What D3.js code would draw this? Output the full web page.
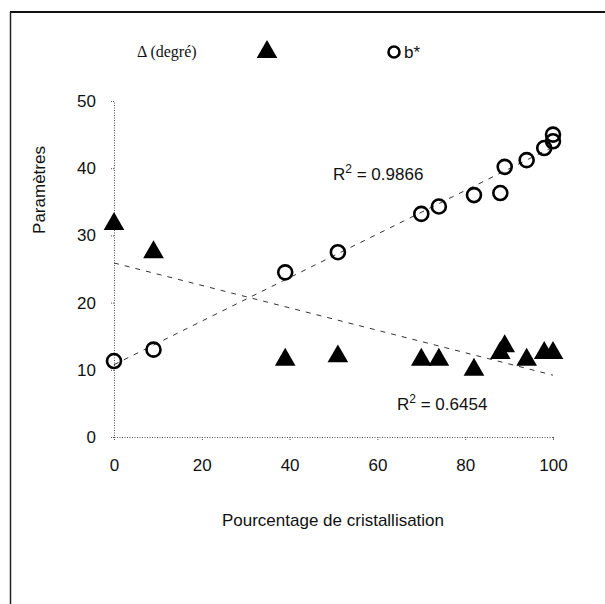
<!DOCTYPE html>
<html><head><meta charset="utf-8">
<script src="https://cdn.jsdelivr.net/npm/d3@7"></script>
<style>body{margin:0;background:#fff}</style>
</head><body>
<script>
const xTicks = [0, 20, 40, 60, 80, 100];
const yTicks = [0, 10, 20, 30, 40, 50];
const deltaX = [0, 9, 39, 51, 70, 74, 82, 88, 89, 94, 98, 100];
const deltaY = [31.7, 27.5, 11.5, 12, 11.5, 11.5, 10, 12.5, 13.5, 11.5, 12.5, 12.5];
const bX = [0, 9, 39, 51, 70, 74, 82, 88, 89, 94, 98, 100, 100];
const bY = [11.3, 13, 24.5, 27.5, 33.2, 34.3, 36, 36.3, 40.2, 41.2, 43, 44, 45];
const r2Labels = ["0.9866", "0.6454"];
const legendLabels = ["\u0394 (degré)", "b*"];
const xTitle = "Pourcentage de cristallisation";
const yTitle = "Paramètres";

const W = 605, H = 604;
const svg = d3.select("body").append("svg").attr("width", W).attr("height", H);
const x = d3.scaleLinear().domain([0, 100]).range([114, 553]);
const y = d3.scaleLinear().domain([0, 50]).range([437, 101]);
const sans = "Liberation Sans, Arial, sans-serif";

// frame
svg.append("line").attr("x1", 10).attr("x2", W).attr("y1", 12).attr("y2", 12).attr("stroke", "#111").attr("stroke-width", 2);
svg.append("line").attr("x1", 10.5).attr("x2", 10.5).attr("y1", 12).attr("y2", H).attr("stroke", "#222").attr("stroke-width", 1.5);

// axes
const ax = svg.append("g").attr("transform", `translate(0,${y(0)})`)
  .call(d3.axisBottom(x).tickValues(xTicks).tickSize(3).tickPadding(19));
const ay = svg.append("g").attr("transform", `translate(${x(0)},0)`)
  .call(d3.axisLeft(y).tickValues(yTicks).tickSize(3).tickPadding(15));
[ax, ay].forEach(g => {
  g.select(".domain").attr("stroke", "#555").attr("stroke-dasharray", "1,1.5");
  g.selectAll(".tick line").attr("stroke", "#555").attr("stroke-dasharray", "1,1");
  g.selectAll("text").attr("font-family", sans).attr("font-size", 17).attr("fill", "#111");
});

// regression
function fit(xs, ys) {
  const mx = d3.mean(xs), my = d3.mean(ys);
  let sxy = 0, sxx = 0;
  xs.forEach((v, i) => { sxy += (v - mx) * (ys[i] - my); sxx += (v - mx) ** 2; });
  const m = sxy / sxx;
  return [m, my - m * mx];
}
[[bX, bY], [deltaX, deltaY]].forEach(([xs, ys]) => {
  const [m, b] = fit(xs, ys);
  svg.append("line").attr("x1", x(0)).attr("y1", y(b)).attr("x2", x(100)).attr("y2", y(m * 100 + b))
    .attr("stroke", "#333").attr("stroke-width", 1).attr("stroke-dasharray", "5,6");
});

// markers
const tri = d3.symbol().type(d3.symbolTriangle).size(185);
svg.append("g").selectAll("path").data(deltaX).join("path")
  .attr("d", tri).attr("transform", (d, i) => `translate(${x(d)},${y(deltaY[i])})`).attr("fill", "#000");
svg.append("g").selectAll("circle").data(bX).join("circle")
  .attr("cx", d => x(d)).attr("cy", (d, i) => y(bY[i])).attr("r", 7)
  .attr("fill", "none").attr("stroke", "#000").attr("stroke-width", 2.6);

// R2 labels
function r2(xp, yp, val) {
  const t = svg.append("text").attr("x", xp).attr("y", yp)
    .attr("font-family", sans).attr("font-size", 17).attr("fill", "#111");
  t.append("tspan").text("R");
  t.append("tspan").text("2").attr("font-size", 12).attr("dy", -7);
  t.append("tspan").text(" = " + val).attr("dy", 7);
}
r2(333, 180, r2Labels[0]);
r2(397, 410, r2Labels[1]);

// legend
svg.append("text").attr("x", 137).attr("y", 57).text(legendLabels[0])
  .attr("font-family", "Liberation Serif, Times New Roman, serif").attr("font-size", 16).attr("fill", "#111");
svg.append("path").attr("d", tri).attr("transform", "translate(267,52)").attr("fill", "#000");
svg.append("circle").attr("cx", 394).attr("cy", 52).attr("r", 5.5).attr("fill", "none").attr("stroke", "#000").attr("stroke-width", 2.6);
svg.append("text").attr("x", 404).attr("y", 58).text(legendLabels[1])
  .attr("font-family", sans).attr("font-size", 17).attr("fill", "#111");

// titles
svg.append("text").attr("x", 333).attr("y", 526).attr("text-anchor", "middle").text(xTitle)
  .attr("font-family", sans).attr("font-size", 17).attr("fill", "#111");
svg.append("text").attr("transform", "translate(45,190) rotate(-90)").attr("text-anchor", "middle").text(yTitle)
  .attr("font-family", sans).attr("font-size", 17).attr("fill", "#111");
</script>
</body></html>
